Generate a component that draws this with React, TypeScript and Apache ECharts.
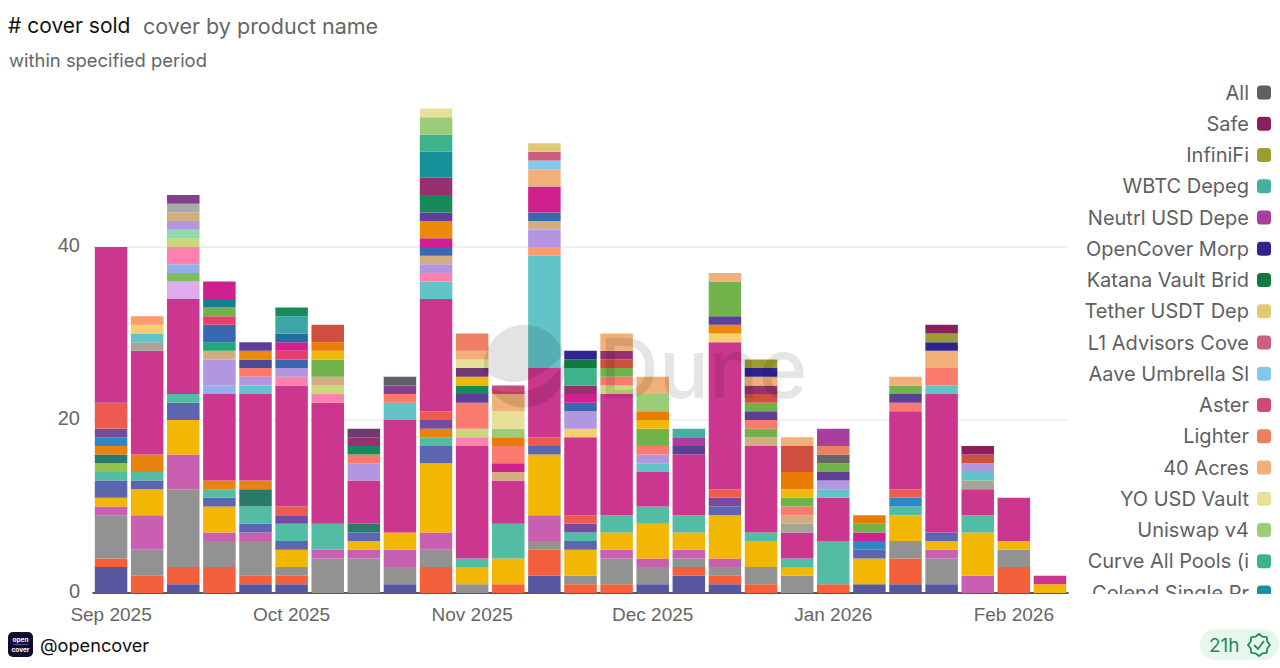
import React, { useEffect, useRef } from "react";
import * as echarts from "echarts";

const categories = [
  "2025-09-01","2025-09-08","2025-09-15","2025-09-22","2025-09-29","2025-10-06","2025-10-13","2025-10-20","2025-10-27",
  "2025-11-03","2025-11-10","2025-11-17","2025-11-24","2025-12-01","2025-12-08","2025-12-15","2025-12-22","2025-12-29",
  "2026-01-05","2026-01-12","2026-01-19","2026-01-26","2026-02-02","2026-02-09","2026-02-16","2026-02-23","2026-03-02",
];
const tickLabels = ["Sep 2025", "Oct 2025", "Nov 2025", "Dec 2025", "Jan 2026", "Feb 2026"];

// lower part of the stack (values per bar, bottom to top)
const navy = [3,0,1,0,1,1,0,0,1,0,0,0,2,0,0,1,2,1,0,0,0,1,1,1,0,0,0];
const ored = [1,2,2,3,1,1,0,0,0,3,0,1,3,1,1,0,1,1,1,0,1,0,3,0,0,3,0];
const gray = [5,3,9,3,4,1,4,4,2,2,1,0,1,1,3,2,1,1,2,2,0,0,2,3,0,2,0];
const pinkv = [1,4,4,1,1,0,1,1,2,2,0,0,3,0,1,1,1,1,0,0,0,0,0,1,2,0,0];
const amber = [1,3,4,3,0,2,0,1,2,8,2,3,7,3,2,4,2,5,3,1,0,3,3,1,5,1,1];
const slate = [2,1,2,1,1,1,0,1,0,2,0,0,1,1,0,0,0,1,0,0,0,1,0,1,0,0,0];
const teal = [1,1,1,1,2,2,3,0,0,1,1,4,0,1,2,2,2,0,1,1,5,0,1,0,2,0,0];
const lowLime = [1,0,0,0,0,0,0,0,0,0,0,0,0,0,0,0,0,0,0,0,0,0,0,0,0,0,0];
const dTeal = [1,0,0,0,2,0,0,1,0,0,0,0,0,0,0,0,0,0,0,0,0,0,0,0,0,0,0];
const orange = [1,2,0,1,1,0,0,0,0,1,0,0,0,0,0,0,0,0,0,0,0,0,0,0,0,0,0];
const blue = [1,0,0,0,0,0,0,0,0,0,0,0,0,0,0,0,0,0,0,0,0,1,1,0,0,0,0];
const plum = [1,0,0,0,0,1,0,0,0,1,0,0,0,1,0,0,0,1,0,0,0,0,0,0,0,0,0];
const coral = [3,0,0,0,0,1,0,0,0,1,0,0,1,1,0,0,0,1,0,0,0,0,1,0,0,0,0];
const magenta = [18,12,11,10,10,14,14,5,13,13,13,5,8,9,14,4,7,17,10,3,5,0,9,16,3,5,1];

// middle part, products whose legend rows lie below the visible legend
const grayGreen = [0,1,0,0,0,0,0,0,0,0,0,0,0,0,0,0,0,0,0,1,0,0,0,0,1,0,0];
const cyan = [0,1,0,0,1,0,0,0,2,2,0,0,13,0,0,1,0,0,0,0,1,0,0,1,1,0,0];
const lYellow = [0,1,0,0,0,0,0,0,0,0,0,0,0,1,0,0,0,1,0,0,0,0,0,0,0,0,0];
const lOrange = [0,1,0,0,0,0,0,0,0,0,0,0,1,0,0,0,0,0,0,0,0,0,0,0,0,0,0];
const lLilac = [0,0,2,0,0,0,0,0,0,0,0,0,0,0,0,0,0,0,0,0,0,0,0,0,0,0,0];
const greenC = [0,0,1,0,0,0,0,0,0,0,0,0,0,0,0,0,0,0,0,0,0,0,0,0,0,0,0];
const peri = [0,0,1,1,0,0,0,0,0,0,0,0,0,0,0,0,0,0,0,0,0,0,0,0,0,0,0];
const pink = [0,0,2,0,0,1,1,0,0,1,1,0,0,0,0,0,0,0,0,0,0,0,0,0,0,0,0];
const limeLight = [0,0,1,0,0,0,1,0,0,0,1,0,0,0,1,0,0,0,0,0,0,0,0,0,0,0,0];
const mint = [0,0,1,0,0,0,0,0,0,0,0,0,0,0,0,0,0,0,0,0,0,0,0,0,0,0,0];
const lilac = [0,0,1,3,1,1,0,2,0,1,0,0,2,2,0,1,0,0,0,0,1,0,0,0,1,0,0];
const tan = [0,0,1,1,0,0,1,0,0,1,0,1,1,0,0,0,0,0,1,1,0,0,0,0,0,0,0];
const gray2 = [0,0,1,0,0,0,0,0,0,0,0,0,0,0,0,0,0,0,0,0,0,0,0,0,0,0,0];
const curveG = [0,0,0,1,0,0,0,0,0,0,0,0,0,0,0,0,0,0,0,0,0,0,0,0,0,0,0];
const blue3 = [0,0,0,2,0,1,0,0,0,1,0,0,1,1,0,0,0,0,0,0,0,0,0,0,0,0,0];
const rose = [0,0,0,1,0,1,0,0,0,0,0,0,0,0,0,0,0,0,0,0,0,0,0,0,0,0,0];
const limeA = [0,0,0,1,0,0,0,0,0,0,0,0,0,0,0,0,0,0,1,0,0,0,0,0,0,0,0];
const tealDark = [0,0,0,1,0,0,0,0,0,0,0,0,0,0,0,0,0,0,0,0,0,0,0,0,0,0,0];
const magenta2 = [0,0,0,2,0,1,0,0,0,1,0,1,3,1,0,0,0,0,0,0,0,1,0,0,0,0,0];
const blueDark = [0,0,0,0,0,1,0,0,0,0,0,0,0,0,0,0,0,0,0,0,0,0,0,0,0,0,0];
const teal3 = [0,0,0,0,0,2,0,0,0,0,0,0,0,0,0,0,0,0,0,0,0,0,0,0,0,0,0];
const salmon = [0,0,0,0,1,0,0,1,1,0,3,2,0,0,1,1,0,0,1,1,0,0,1,2,0,0,0];
const dSlate = [0,0,0,0,1,0,0,0,0,0,0,0,0,0,0,0,0,0,0,0,0,0,0,0,0,0,0];
const orangeA = [0,0,0,0,1,0,0,0,0,2,0,0,0,0,0,0,0,1,0,0,0,0,0,0,0,0,0];
const dPurple = [0,0,0,0,1,0,0,0,0,1,1,0,0,0,0,0,1,1,1,0,1,0,1,0,0,0,0];
const limeB = [0,0,0,0,0,0,2,0,0,0,0,0,0,0,1,2,0,4,1,1,1,1,1,0,0,0,0];
const green2 = [0,0,0,0,0,1,0,1,0,2,1,0,0,0,0,0,0,0,0,0,0,0,0,0,0,0,0];
const amber2 = [0,0,0,0,0,0,1,0,0,0,1,0,0,0,0,1,0,0,0,1,0,0,0,0,0,0,0];
const orangeB = [0,0,0,0,0,0,1,0,0,0,0,1,0,0,0,1,0,0,0,2,0,1,0,0,0,0,0];
const redBrown = [0,0,0,0,0,0,2,0,0,0,0,0,0,0,1,0,0,0,1,3,0,0,0,0,1,0,0];
const plum2 = [0,0,0,0,0,0,0,1,0,2,0,0,0,1,1,0,0,0,1,0,0,0,0,0,0,0,0];
const plumDark = [0,0,0,0,0,0,0,1,0,0,1,0,0,0,0,0,0,0,0,0,0,0,0,0,0,0,0];
const purple = [0,0,1,0,0,0,0,0,1,0,0,0,0,0,0,0,0,0,0,0,0,0,0,0,0,0,0];
const dGray = [0,0,0,0,0,0,0,0,0,0,0,0,0,0,0,0,0,0,0,0,1,0,0,0,0,0,0];

// products named in the legend
const colend = [0,0,0,0,0,0,0,0,0,3,0,0,0,0,0,0,0,0,0,0,0,0,0,0,0,0,0];
const curve = [0,0,0,0,0,0,0,0,0,2,0,0,0,2,0,0,0,0,0,0,0,0,0,0,0,0,0];
const uniswap = [0,0,0,0,0,0,0,0,0,2,0,1,0,0,0,2,0,0,0,0,0,0,0,0,0,0,0];
const yoUsd = [0,0,0,0,0,0,0,0,0,1,1,2,0,0,0,0,0,0,0,0,0,0,0,0,0,0,0];
const acres = [0,0,0,0,0,0,0,0,0,0,1,2,2,0,2,2,0,1,1,1,0,0,1,2,0,0,0];
const lighter = [0,0,0,0,0,0,0,0,0,0,2,0,0,0,0,0,0,0,0,0,1,0,0,0,0,0,0];
const aster = [0,0,0,0,0,0,0,0,0,0,0,1,0,0,0,0,0,0,0,0,0,0,0,0,0,0,0];
const aave = [0,0,0,0,0,0,0,0,0,0,0,0,1,0,0,0,0,0,0,0,0,0,0,0,0,0,0];
const l1 = [0,0,0,0,0,0,0,0,0,0,0,0,1,0,0,0,0,0,0,0,0,0,0,0,0,0,0];
const tether = [0,0,0,0,0,0,0,0,0,0,0,0,1,0,0,0,0,0,0,0,0,0,0,0,0,0,0];
const katana = [0,0,0,0,0,0,0,0,0,0,0,0,0,1,0,0,0,0,0,0,0,0,0,0,0,0,0];
const openCover = [0,0,0,0,0,0,0,0,0,0,0,0,0,1,0,0,0,0,1,0,0,0,0,1,0,0,0];
const neutrl = [0,0,0,0,0,0,0,0,0,0,0,0,0,0,0,0,1,0,0,0,2,0,0,0,0,0,0];
const wbtc = [0,0,0,0,0,0,0,0,0,0,0,0,0,0,0,0,1,0,0,0,0,0,0,0,0,0,0];
const infiniFi = [0,0,0,0,0,0,0,0,0,0,0,0,0,0,0,0,0,0,1,0,0,0,0,1,0,0,0];
const safe = [0,0,0,0,0,0,0,0,0,0,0,0,0,0,0,0,0,0,0,0,0,0,0,1,1,0,0];
const allCover = [0,0,0,0,0,0,0,0,1,0,0,0,0,0,0,0,0,0,0,0,0,0,0,0,0,0,0];

const stack: [string, number[], string][] = [
  ["p01", navy, "#56579f"], ["p02", ored, "#f4603c"], ["p03", gray, "#929292"], ["p04", pinkv, "#c85fb0"],
  ["p05", amber, "#f2b705"], ["p06", slate, "#5b65b0"], ["p07", teal, "#52bca5"], ["p08", lowLime, "#90c44c"],
  ["p09", dTeal, "#2a7a6c"], ["p10", orange, "#e8830f"], ["p11", blue, "#2e88c4"], ["p12", plum, "#764b9f"],
  ["p13", coral, "#ef5a50"], ["p14", magenta, "#cb378e"],
  ["p15", grayGreen, "#a5a597"], ["p16", cyan, "#62c4c8"], ["p17", lYellow, "#f8cf70"], ["p18", lOrange, "#fc9b6e"],
  ["p19", lLilac, "#dcaced"], ["p20", greenC, "#7cbc5a"], ["p21", peri, "#94b0ec"], ["p22", pink, "#ff82ae"],
  ["p23", limeLight, "#c8d87a"], ["p24", mint, "#8edba8"], ["p25", lilac, "#b396e0"], ["p26", tan, "#d2ad80"],
  ["p27", gray2, "#a9a9a9"], ["p28", curveG, "#1ea779"], ["p29", blue3, "#3a68b0"], ["p30", rose, "#e83e6e"],
  ["p31", limeA, "#72b24a"], ["p32", tealDark, "#14808f"], ["p33", magenta2, "#d01f8f"], ["p34", blueDark, "#1f6ea0"],
  ["p35", teal3, "#3ca5a5"], ["p36", salmon, "#fb7a6e"], ["p37", dSlate, "#4a4a94"], ["p38", orangeA, "#ea8a06"],
  ["p39", dPurple, "#5f3f96"], ["p40", limeB, "#72b24a"], ["p41", green2, "#178a5c"], ["p42", amber2, "#f0b80a"],
  ["p43", orangeB, "#e87c05"], ["p44", redBrown, "#cf4f40"], ["p45", plum2, "#963070"], ["p46", plumDark, "#6f3a70"],
  ["p47", purple, "#84408f"], ["p48", dGray, "#666666"],
  ["Colend Single Protocol", colend, "#17929a"], ["Curve All Pools (incl", curve, "#3eb38a"], ["Uniswap v4", uniswap, "#9ccb7a"],
  ["YO USD Vault", yoUsd, "#e8e098"], ["40 Acres", acres, "#f0b078"], ["Lighter", lighter, "#ef7f62"],
  ["Aster", aster, "#cb4a78"], ["Aave Umbrella Slashing", aave, "#84c8ee"], ["L1 Advisors Cover", l1, "#cc5f7d"],
  ["Tether USDT Depeg", tether, "#dfca73"], ["Katana Vault Bridge", katana, "#127a3e"], ["OpenCover Morpho", openCover, "#2f2390"],
  ["Neutrl USD Depeg", neutrl, "#a83f9f"], ["WBTC Depeg", wbtc, "#45b0a0"], ["InfiniFi", infiniFi, "#9c9c30"],
  ["Safe", safe, "#8a1f5e"], ["All", allCover, "#5f5f66"],
];
const legendNames = stack.slice(48).map((s) => s[0]).reverse();

const duneMark =
  "M484.2 372 A41 41 0 0 1 564 354 C548 372 530 382 515 382 C503 382 492 377 484.2 372 Z " +
  "M489 387 C500 393 520 394 535 388 C548 383 558 374 565 360 A41 41 0 0 1 489 387 Z";
echarts.graphic.registerShape("duneMark", echarts.graphic.extendPath(duneMark, {}));

const badgePoints: number[][] = [];
for (let i = 0; i < 16; i++) {
  const a = (i / 16) * Math.PI * 2;
  const r = i % 2 === 0 ? 11 : 9;
  badgePoints.push([1259 + r * Math.cos(a), 645 + r * Math.sin(a)]);
}

export default function App() {
  const ref = useRef<HTMLDivElement>(null);
  useEffect(() => {
    const chart = echarts.init(ref.current!, null, { renderer: "svg" });
    chart.setOption({
      animation: false,
      backgroundColor: "#ffffff",
      grid: { left: 93, right: 212, top: 74, bottom: 75, containLabel: false },
      xAxis: {
        type: "category",
        data: categories,
        axisTick: { show: false },
        axisLine: { lineStyle: { color: "#222222", width: 1.5 } },
        axisLabel: {
          interval: 4,
          margin: 12,
          fontFamily: "Liberation Sans",
          fontSize: 19,
          color: "#666666",
          formatter: (_v: string, i: number) => tickLabels[i / 5] ?? "",
        },
      },
      yAxis: {
        type: "value",
        min: 0,
        max: 60,
        interval: 20,
        axisLine: { show: false },
        axisTick: { show: false },
        splitLine: { showMaxLine: false, showMinLine: false, lineStyle: { color: "#ebebeb", width: 1.5 } },
        axisLabel: {
          showMaxLabel: false,
          margin: 13,
          fontFamily: "Liberation Sans",
          fontSize: 20,
          color: "#666666",
          verticalAlign: "bottom",
          lineHeight: 4,
        },
      },
      legend: {
        orient: "vertical",
        align: "right",
        right: 4,
        top: 75.5,
        itemWidth: 14,
        itemHeight: 14,
        itemGap: 7.25,
        icon: "roundRect",
        selectedMode: false,
        data: legendNames,
        textStyle: {
          fontFamily: "Inter",
          fontSize: 20,
          lineHeight: 24,
          color: "#5f5f63",
          width: 169,
          overflow: "truncate",
          ellipsis: "",
          padding: [0, 3, 0, 0],
        },
      },
      series: stack.map(([name, values, color]) => ({
        name,
        type: "bar",
        stack: "total",
        data: values,
        barWidth: "90%",
        itemStyle: { color },
        emphasis: { disabled: true },
      })),
      graphic: [
        { type: "rect", z: 50, shape: { x: 1075, y: 594, width: 205, height: 32 }, style: { fill: "#ffffff" } },
        { type: "duneMark", z: 60, x: 0, y: 0, silent: true, style: { fill: "rgba(0,0,0,0.11)" } },
        {
          type: "text", z: 60, silent: true,
          style: { x: 599, y: 368, text: "Dune", font: "500 83px Inter", fill: "rgba(0,0,0,0.1)", textVerticalAlign: "middle" },
        },
        { type: "text", style: { x: 8, y: 25.5, text: "# cover sold", font: "21px Inter", fill: "#111111", textVerticalAlign: "middle" } },
        { type: "text", style: { x: 143, y: 25.5, text: "cover by product name", font: "21.5px Inter", fill: "#666666", textVerticalAlign: "middle" } },
        { type: "text", style: { x: 9, y: 60, text: "within specified period", font: "18.4px Inter", fill: "#666666", textVerticalAlign: "middle" } },
        { type: "rect", shape: { x: 8, y: 632, width: 25, height: 25, r: 5 }, style: { fill: "#130a30" } },
        { type: "text", style: { x: 20.5, y: 640, text: "open", font: "bold 6.5px Inter", fill: "#ffffff", textAlign: "center", textVerticalAlign: "middle" } },
        { type: "line", shape: { x1: 13, y1: 644.5, x2: 28, y2: 644.5 }, style: { stroke: "#4a7fd0", lineWidth: 0.7 } },
        { type: "text", style: { x: 20.5, y: 649.5, text: "cover", font: "bold 6.5px Inter", fill: "#ffffff", textAlign: "center", textVerticalAlign: "middle" } },
        { type: "text", style: { x: 40, y: 645, text: "@opencover", font: "18.2px Inter", fill: "#111111", textVerticalAlign: "middle" } },
        { type: "rect", shape: { x: 1200, y: 629, width: 79, height: 31, r: 15 }, style: { fill: "#e8f7ec" } },
        { type: "text", style: { x: 1209, y: 645, text: "21h", font: "19px Inter", fill: "#1f8a5a", textVerticalAlign: "middle" } },
        { type: "polygon", shape: { points: badgePoints }, style: { fill: "none", stroke: "#1f8a5a", lineWidth: 1.8 } },
        { type: "polyline", shape: { points: [[1254, 645], [1258, 649], [1264, 641]] }, style: { fill: "none", stroke: "#1f8a5a", lineWidth: 1.8 } },
      ],
    });
    return () => chart.dispose();
  }, []);
  return <div ref={ref} style={{ position: "fixed", left: 0, top: 0, width: 1280, height: 668, background: "#fff" }} />;
}
